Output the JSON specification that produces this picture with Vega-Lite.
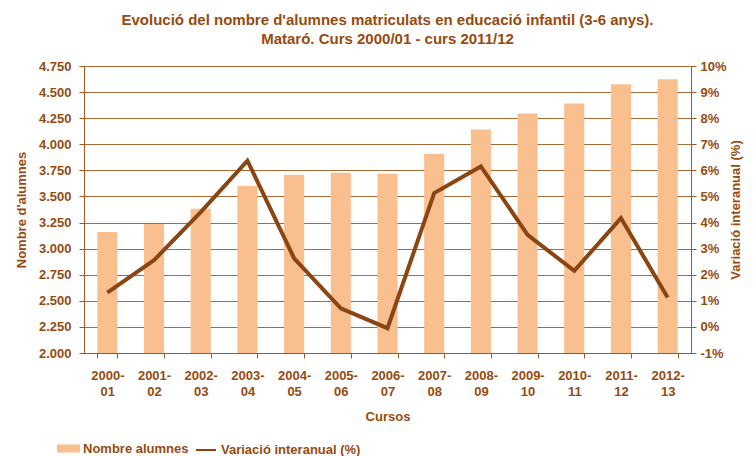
{
  "$schema": "https://vega.github.io/schema/vega-lite/v6.json",
  "width": 607,
  "height": 287,
  "autosize": {"type": "none"},
  "padding": {"left": 84, "top": 66, "right": 65, "bottom": 103},
  "background": "white",
  "config": {
    "font": "Liberation Sans",
    "view": {"stroke": null},
    "axis": {
      "labelFont": "Liberation Sans",
      "labelFontSize": 13,
      "labelFontWeight": "bold",
      "labelColor": "#964B0F",
      "titleFont": "Liberation Sans",
      "titleFontSize": 13,
      "titleFontWeight": "bold",
      "titleColor": "#964B0F",
      "domainColor": "#9A5A22",
      "tickColor": "#9A5A22",
      "gridColor": "#A86B38",
      "gridOpacity": 1
    }
  },
  "title": {
    "text": ["Evolució del nombre d'alumnes matriculats en educació infantil (3-6 anys).", "Mataró. Curs 2000/01  - curs 2011/12"],
    "fontSize": 15,
    "fontWeight": "bold",
    "color": "#964B0F",
    "anchor": "middle",
    "offset": 13,
    "lineHeight": 19
  },
  "data": {
    "values": [
      {"curs": "2000-01", "alumnes": 3160, "variacio": 1.31},
      {"curs": "2001-02", "alumnes": 3237, "variacio": 2.56},
      {"curs": "2002-03", "alumnes": 3382, "variacio": 4.4},
      {"curs": "2003-04", "alumnes": 3603, "variacio": 6.37},
      {"curs": "2004-05", "alumnes": 3708, "variacio": 2.63},
      {"curs": "2005-06", "alumnes": 3728, "variacio": 0.71},
      {"curs": "2006-07", "alumnes": 3718, "variacio": -0.05},
      {"curs": "2007-08", "alumnes": 3910, "variacio": 5.13},
      {"curs": "2008-09", "alumnes": 4141, "variacio": 6.15},
      {"curs": "2009-10", "alumnes": 4295, "variacio": 3.53},
      {"curs": "2010-11", "alumnes": 4391, "variacio": 2.15},
      {"curs": "2011-12", "alumnes": 4574, "variacio": 4.17},
      {"curs": "2012-13", "alumnes": 4622, "variacio": 1.13}
    ]
  },
  "encoding": {
    "x": {
      "field": "curs",
      "type": "nominal",
      "sort": null,
      "scale": {"paddingInner": 0.57, "paddingOuter": 0.285},
      "axis": {
        "title": "Cursos",
        "labelAngle": 0,
        "labelExpr": "[slice(datum.label, 0, 5), slice(datum.label, 5)]",
        "labelLineHeight": 16,
        "tickBand": "extent",
        "tickSize": 5,
        "labelPadding": 11,
        "titlePadding": 12,
        "grid": false
      }
    }
  },
  "layer": [
    {
      "mark": {"type": "bar", "clip": true},
      "encoding": {
        "y": {
          "field": "alumnes",
          "type": "quantitative",
          "scale": {"domain": [2000, 4750], "zero": false, "nice": false},
          "axis": {
            "title": "Nombre d'alumnes",
            "values": [2000, 2250, 2500, 2750, 3000, 3250, 3500, 3750, 4000, 4250, 4500, 4750],
            "labelExpr": "replace(format(datum.value, ',.0f'), ',', '.')",
            "grid": true,
            "tickSize": 5,
            "labelPadding": 8,
            "titlePadding": 10
          }
        },
        "fill": {
          "datum": "Nombre alumnes",
          "scale": {"range": ["#F9BF8F"]},
          "legend": {
            "orient": "none",
            "legendX": -27,
            "legendY": 371,
            "title": null,
            "symbolType": "M-1,-0.35H1V0.35H-1Z",
            "symbolSize": 529,
            "symbolStrokeWidth": 0,
            "labelFontSize": 13,
            "labelFontWeight": "bold",
            "labelColor": "#964B0F",
            "labelOffset": 3
          }
        }
      }
    },
    {
      "mark": {"type": "line", "strokeWidth": 4},
      "encoding": {
        "y": {
          "field": "variacio",
          "type": "quantitative",
          "scale": {"domain": [-1, 10], "zero": false, "nice": false},
          "axis": {
            "orient": "right",
            "title": "Variació interanual (%)",
            "titleAngle": 270,
            "values": [-1, 0, 1, 2, 3, 4, 5, 6, 7, 8, 9, 10],
            "labelExpr": "datum.value + '%'",
            "grid": false,
            "tickSize": 5,
            "labelPadding": 4,
            "titlePadding": 16
          }
        },
        "stroke": {
          "datum": "Variació interanual (%)",
          "scale": {"range": ["#8B4513"]},
          "legend": {
            "orient": "none",
            "legendX": 111,
            "legendY": 373,
            "title": null,
            "symbolType": "stroke",
            "symbolSize": 400,
            "symbolStrokeWidth": 2,
            "labelFontSize": 13,
            "labelFontWeight": "bold",
            "labelColor": "#964B0F",
            "labelOffset": 4
          }
        }
      }
    }
  ],
  "resolve": {"scale": {"y": "independent"}}
}
